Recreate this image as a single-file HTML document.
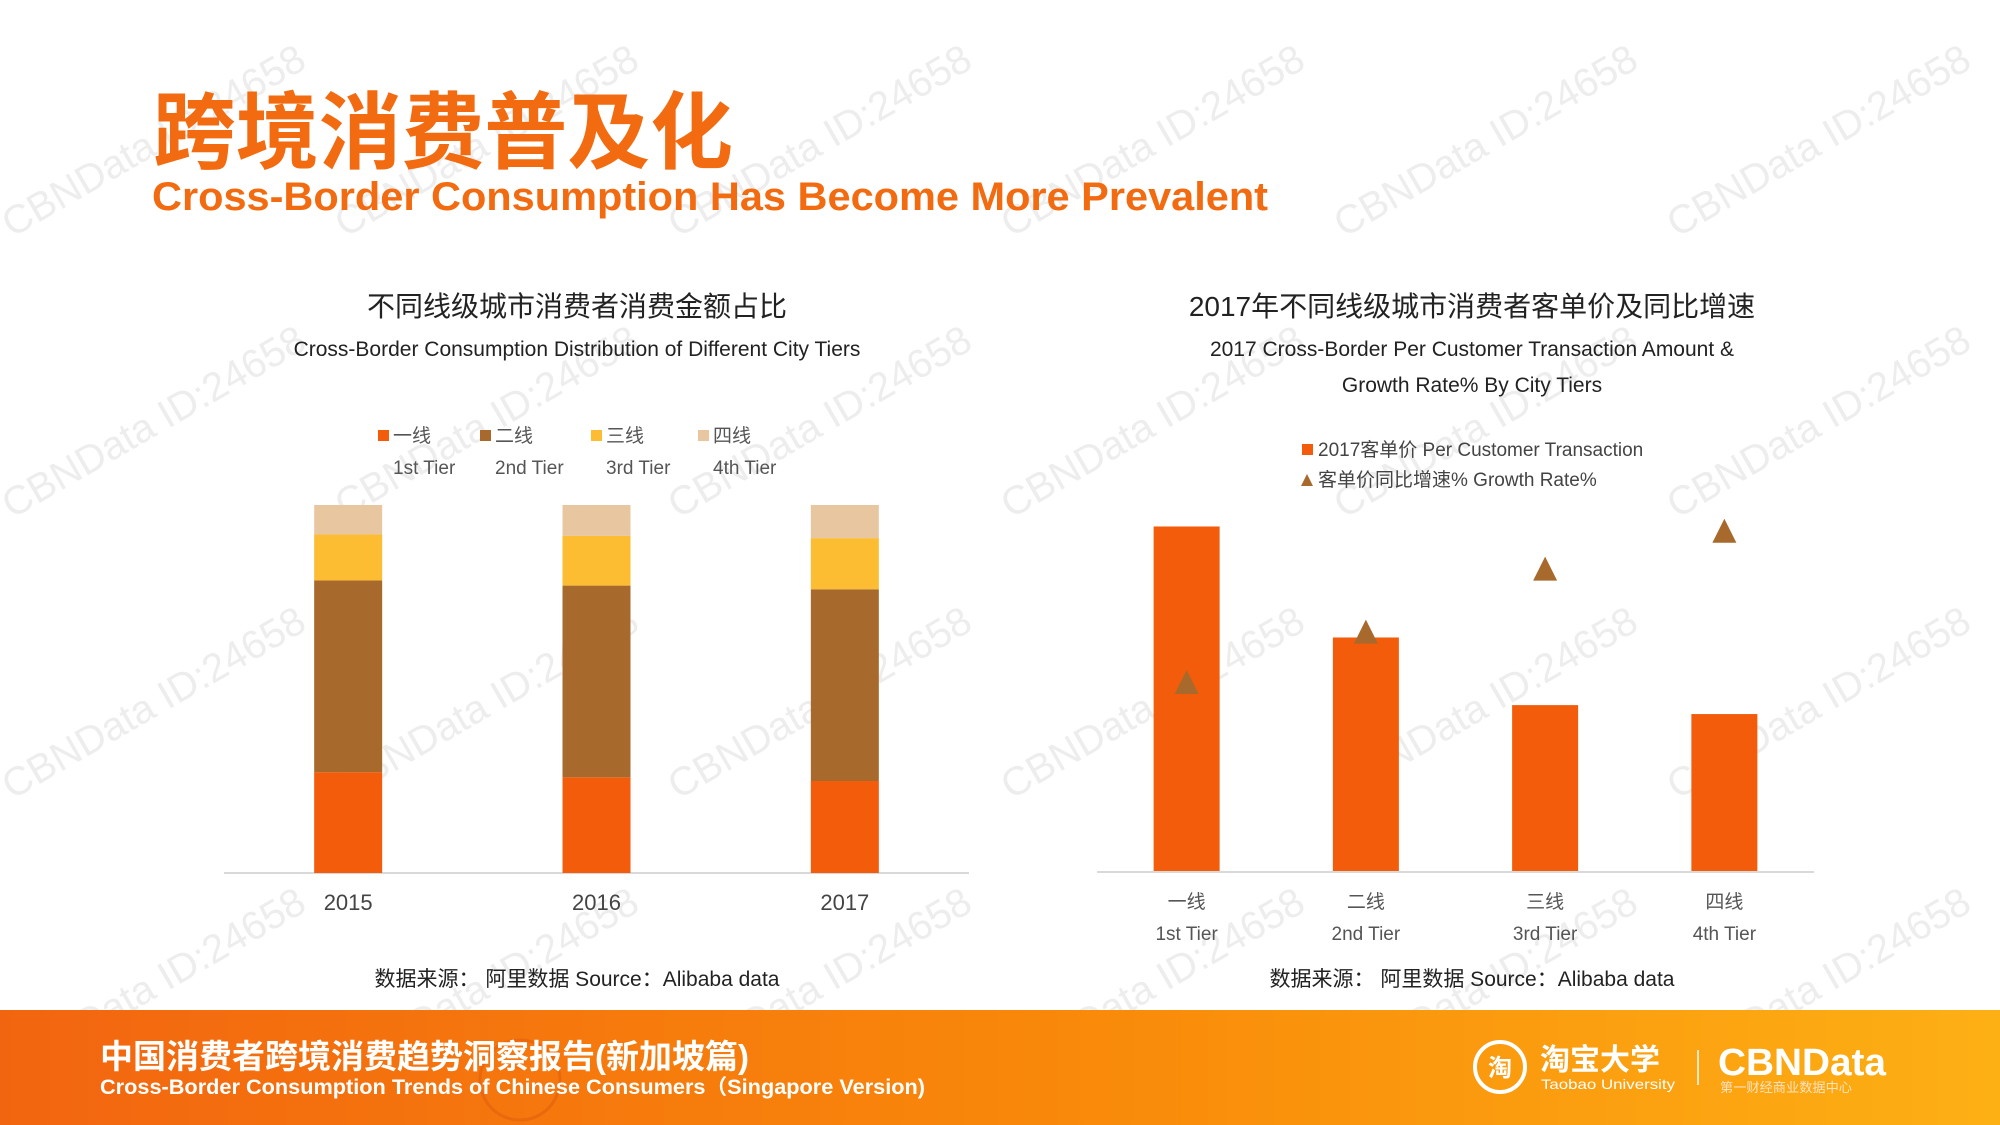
<!DOCTYPE html>
<html><head><meta charset="utf-8">
<style>
html,body{margin:0;padding:0;background:#fff;width:2000px;height:1125px;overflow:hidden;}
svg{display:block;font-family:"Liberation Sans","Noto Sans CJK SC",sans-serif;}
</style></head>
<body>
<svg id="root" width="2000" height="1125" viewBox="0 0 2000 1125" xmlns="http://www.w3.org/2000/svg">
<defs>
<linearGradient id="fg" x1="0" x2="1" y1="0" y2="0">
<stop offset="0" stop-color="#f26510"/><stop offset="0.55" stop-color="#f98a0a"/><stop offset="1" stop-color="#fdb014"/>
</linearGradient>
<clipPath id="footclip"><rect x="0" y="1010" width="2000" height="115"/></clipPath>
</defs>
<g id="wm"></g>

<text x="153" y="162" font-size="84" font-weight="bold" fill="#f26b10" textLength="580" lengthAdjust="spacingAndGlyphs">跨境消费普及化</text>
<text x="152" y="210" font-size="40" font-weight="bold" fill="#f26b10" textLength="1116" lengthAdjust="spacingAndGlyphs">Cross-Border Consumption Has Become More Prevalent</text>

<g>
<text x="577" y="316" font-size="28" text-anchor="middle" fill="#222">不同线级城市消费者消费金额占比</text>
<text x="577" y="356" font-size="21" text-anchor="middle" fill="#222">Cross-Border Consumption Distribution of Different City Tiers</text>
<g id="leftLegend"></g>
<line x1="224" y1="873" x2="969" y2="873" stroke="#d9d9d9" stroke-width="2"/>
<g id="leftBars"></g>
<g id="leftTicks"></g>
<text x="577" y="986" font-size="21" text-anchor="middle" fill="#222">数据来源：  阿里数据  Source：Alibaba data</text>
</g>

<g>
<text x="1472" y="316" font-size="28" text-anchor="middle" fill="#222">2017年不同线级城市消费者客单价及同比增速</text>
<text x="1472" y="356" font-size="21" text-anchor="middle" fill="#222">2017 Cross-Border Per Customer Transaction Amount &amp;</text>
<text x="1472" y="392" font-size="21" text-anchor="middle" fill="#222">Growth Rate% By City Tiers</text>
<rect x="1302" y="444" width="11" height="11" fill="#f25c0a"/>
<text x="1318" y="456" font-size="19" fill="#444">2017客单价 Per Customer Transaction</text>
<polygon points="1307,474 1313,486 1301,486" fill="#a86a2c"/>
<text x="1318" y="486" font-size="19" fill="#444">客单价同比增速% Growth Rate%</text>
<line x1="1097" y1="872" x2="1814" y2="872" stroke="#d9d9d9" stroke-width="2"/>
<g id="rightBars"></g>
<g id="rightTicks"></g>
<text x="1472" y="986" font-size="21" text-anchor="middle" fill="#222">数据来源：  阿里数据  Source：Alibaba data</text>
</g>

<rect x="0" y="1010" width="2000" height="115" fill="url(#fg)"/>
<g clip-path="url(#footclip)">
<circle cx="520" cy="1080" r="40" fill="none" stroke="#e05a10" stroke-width="3" opacity="0.5"/>
</g>
<text x="100" y="1068" font-size="33" font-weight="bold" fill="#fff">中国消费者跨境消费趋势洞察报告(新加坡篇)</text>
<text x="100" y="1094" font-size="21" font-weight="bold" fill="#fff" textLength="825" lengthAdjust="spacingAndGlyphs">Cross-Border Consumption Trends of Chinese Consumers（Singapore Version)</text>
<circle cx="1500" cy="1067" r="25" fill="none" stroke="#fff" stroke-width="4"/>
<text x="1500" y="1076" font-size="24" font-weight="bold" fill="#fff" text-anchor="middle">淘</text>
<text x="1540" y="1070" font-size="30" font-weight="bold" fill="#fff">淘宝大学</text>
<text x="1541" y="1089" font-size="14" fill="#fff" textLength="134" lengthAdjust="spacingAndGlyphs">Taobao University</text>
<line x1="1698" y1="1050" x2="1698" y2="1085" stroke="#fff" stroke-width="1.5"/>
<text x="1718" y="1075" font-size="38" font-weight="bold" fill="#fff" textLength="168" lengthAdjust="spacingAndGlyphs">CBNData</text>
<text x="1720" y="1092" font-size="13" fill="#fde2c0" textLength="132" lengthAdjust="spacingAndGlyphs">第一财经商业数据中心</text>
</svg>
<script>
const leftYears = ['2015','2016','2017'];
const tier1Share = [27.4, 26.0, 25.0];
const tier2Share = [52.1, 52.1, 52.1];
const tier3Share = [12.5, 13.5, 13.9];
const tier4Share = [8.0, 8.4, 9.0];
const leftLegendCn = ['一线','二线','三线','四线'];
const leftLegendEn = ['1st Tier','2nd Tier','3rd Tier','4th Tier'];
const rightCatsCn = ['一线','二线','三线','四线'];
const rightCatsEn = ['1st Tier','2nd Tier','3rd Tier','4th Tier'];
const perCustomer = [540, 366, 260, 246];
const growthRate = [15, 19, 24, 27];

const NS='http://www.w3.org/2000/svg';
function mk(tag, attrs, parent){const e=document.createElementNS(NS,tag);for(const k in attrs)e.setAttribute(k,attrs[k]);parent.appendChild(e);return e;}
const colors=['#f25c0a','#a86a2c','#fcbd33','#e8c7a0'];

const lBase=873, lTop=505, lX0=224, lX1=969;
const lBand=(lX1-lX0)/leftYears.length;
const lx=i=>lX0+lBand*(i+0.5);
const ly=v=>lBase-(v/100)*(lBase-lTop);
const lBars=document.getElementById('leftBars');
const series=[tier1Share,tier2Share,tier3Share,tier4Share];
leftYears.forEach((yr,i)=>{
  let total=series.reduce((s,a)=>s+a[i],0);
  let acc=0;
  series.forEach((arr,s)=>{
    const v=arr[i]/total*100;
    const r=mk('rect',{x:lx(i)-34,y:ly(acc+v),width:68,height:ly(acc)-ly(acc+v),fill:colors[s]},lBars);
    
    
    acc+=v;
  });
  const t=mk('text',{x:lx(i),y:910,'font-size':22,'text-anchor':'middle',fill:'#444'},document.getElementById('leftTicks'));
  t.textContent=yr;
  
  
});
const legX=[378,480,591,698];
const lg=document.getElementById('leftLegend');
leftLegendCn.forEach((c,i)=>{
  const r=mk('rect',{x:legX[i],y:430,width:11,height:11,fill:colors[i]},lg);
  
  
  const t=mk('text',{x:legX[i]+15,y:442,'font-size':19,fill:'#555'},lg);
  t.textContent=c;
  
  
  const t2=mk('text',{x:legX[i]+15,y:474,'font-size':19,fill:'#555'},lg);
  t2.textContent=leftLegendEn[i];
  
  
});

const rBase=871, rX0=1097, rX1=1814;
const rBand=(rX1-rX0)/rightCatsCn.length;
const rx=i=>rX0+rBand*(i+0.5);
const ryBar=v=>rBase-v*0.638;
const ryGrowth=v=>rBase-v*12.6;
const rb=document.getElementById('rightBars');
const rt=document.getElementById('rightTicks');
rightCatsCn.forEach((c,i)=>{
  const r=mk('rect',{x:rx(i)-33,y:ryBar(perCustomer[i]),width:66,height:rBase-ryBar(perCustomer[i]),fill:'#f25c0a'},rb);
  
  
  const cy=ryGrowth(growthRate[i]);
  const p=mk('polygon',{points:`${rx(i)},${cy-12} ${rx(i)+12},${cy+12} ${rx(i)-12},${cy+12}`,fill:'#a86a2c'},rb);
  
  
  const t=mk('text',{x:rx(i),y:908,'font-size':19,'text-anchor':'middle',fill:'#555'},rt);
  t.textContent=c;
  
  
  const t2=mk('text',{x:rx(i),y:940,'font-size':19,'text-anchor':'middle',fill:'#555'},rt);
  t2.textContent=rightCatsEn[i];
  
  
});

const wm=document.getElementById('wm');
for(let r=0;r<4;r++){for(let c=0;c<6;c++){
  const x=12+c*333, y=238+r*281;
  const t=mk('text',{x:x,y:y,'font-size':40,fill:'#ededed',transform:`rotate(-30 ${x} ${y})`},wm);
  t.textContent='CBNData ID:24658';
  
  
}}
</script>
</body></html>
